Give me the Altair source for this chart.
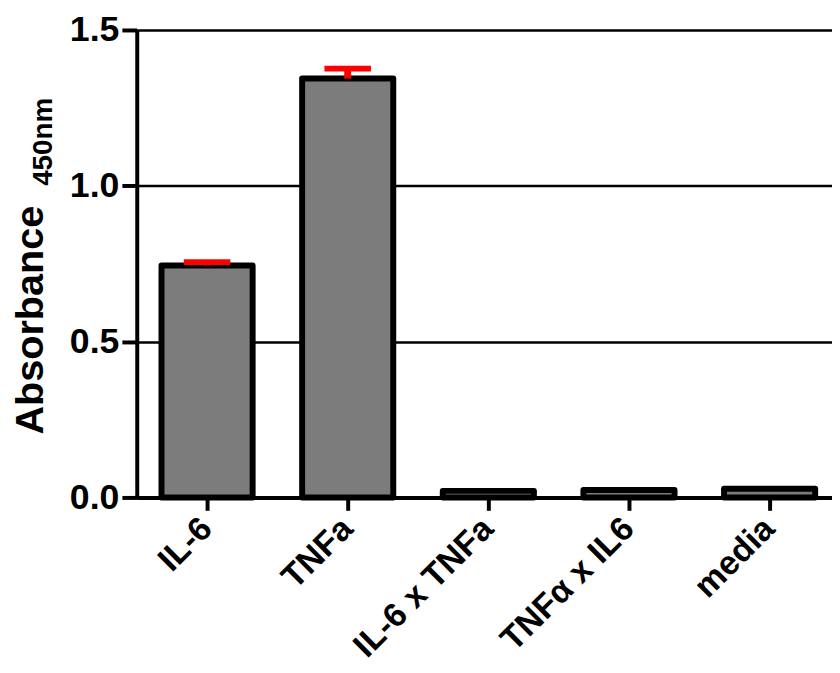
import altair as alt
import pandas as pd

categories = ["IL-6", "TNFa", "IL-6 x TNFa", "TNF\u03b1 x IL6", "media"]
means = [0.744, 1.344, 0.021, 0.024, 0.028]
errors = [0.011, 0.032, 0.0, 0.0, 0.0]
y_ticks = [0.0, 0.5, 1.0, 1.5]
y_title = ["Absorbance"]
y_sub = ["450nm"]

FONT = "Liberation Sans"

df = pd.DataFrame({"cat": categories, "mean": means, "err": errors})
df["upper"] = df["mean"] + df["err"]

x_scale = alt.Scale(type="band", paddingInner=0.352, paddingOuter=0.176)
x_axis = alt.Axis(
    title=None, labelAngle=-45, labelAlign="right", labelBaseline="middle",
    labelFont=FONT, labelFontSize=34, labelFontWeight="bold", labelColor="black",
    labelPadding=13, labelLimit=400, tickColor="black", tickWidth=4, tickSize=13,
    domainColor="black", domainWidth=4, grid=False,
)
x_enc = alt.X("cat:N", sort=categories, scale=x_scale, axis=x_axis)

y_scale = alt.Scale(domain=[0, 1.5], nice=False)
y_axis = alt.Axis(
    title=None, values=y_ticks, format=".1f",
    labelFont=FONT, labelFontSize=36, labelFontWeight="bold", labelColor="black",
    labelPadding=3, tickColor="black", tickWidth=4, tickSize=15,
    domainColor="black", domainWidth=4,
    grid=True, gridColor="black", gridWidth=2.5,
)

base = alt.Chart(df)

bars = base.mark_bar(
    fill="#7c7c7c", stroke="black", strokeWidth=6, strokeJoin="round"
).encode(x=x_enc, y=alt.Y("mean:Q", scale=y_scale, axis=y_axis))

err_rule = base.transform_filter("datum.err > 0").mark_rule(
    color="red", strokeWidth=7
).encode(x=x_enc, y=alt.Y("mean:Q", scale=y_scale, axis=y_axis), y2="upper:Q")

err_cap = base.transform_filter("datum.err > 0").mark_tick(
    color="red", thickness=6, size=47, opacity=1
).encode(x=x_enc, y=alt.Y("upper:Q", scale=y_scale, axis=y_axis))

title_main = alt.Chart(pd.DataFrame({"t": y_title})).mark_text(
    angle=270, align="center", baseline="alphabetic", font=FONT,
    fontSize=40, fontWeight="bold", color="black"
).encode(text="t:N", x=alt.value(-95), y=alt.value(293))

title_sub = alt.Chart(pd.DataFrame({"t": y_sub})).mark_text(
    angle=270, align="center", baseline="alphabetic", font=FONT,
    fontSize=28, fontWeight="bold", color="black"
).encode(text="t:N", x=alt.value(-86), y=alt.value(113))

chart = alt.layer(bars, err_rule, err_cap, title_main, title_sub).properties(
    width=710,
    height=472,
    padding={"left": 130, "top": 19, "right": -8, "bottom": 165},
    autosize=alt.AutoSizeParams(type="none"),
).configure_view(stroke=None)

chart.save("out.html", embed_options={"renderer": "svg", "actions": False})
